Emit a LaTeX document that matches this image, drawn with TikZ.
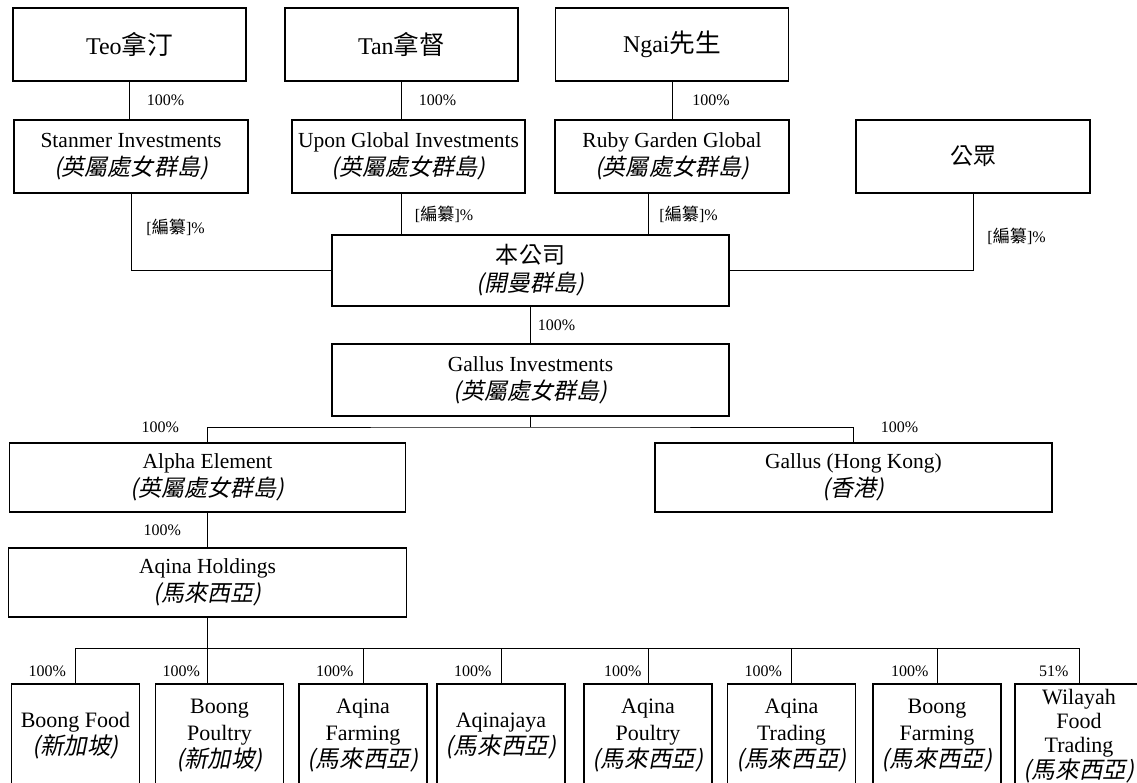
\documentclass[tikz,border=0pt]{standalone}
\usepackage{fontspec}
\setmainfont{Liberation Serif}
\newfontfamily\cjk[Scale=1.07]{Noto Sans CJK TC}
\newfontfamily\cjkit[Scale=1.07, FakeSlant=0.2]{Noto Sans CJK TC}
\usetikzlibrary{positioning}

\begin{document}
\begin{tikzpicture}[x=1pt, y=-1pt, line width=0.9pt,
    entity/.style={draw, rectangle, line width=1.1pt, align=center, inner sep=0pt,
        font=\fontsize{21.5}{28}\selectfont},
    owner/.style={entity, minimum width=233, minimum height=73,
        font=\fontsize{24}{28}\selectfont},
    subsidiary/.style={entity, minimum width=128, minimum height=104,
        font=\fontsize{22}{27}\selectfont},
    share/.style={inner sep=0pt, font=\fontsize{16}{18}\selectfont}]

% page size of the chart, the bottom row runs off the page
\useasboundingbox (0,0) rectangle (1137,782);
\clip (0,0) rectangle (1137,782);

% shareholders at the top:
\node[owner] (teo) at (129.5,44.5) {Teo{\cjk 拿汀}};
\node[owner] (tan) at (401.5,44.5) {Tan{\cjk 拿督}};
\node[owner] (ngai) at (672,44.5) {Ngai{\cjk 先生}};

% their holding companies and the public:
\node[entity, minimum width=234, minimum height=73] (stanmer) at (131,156.5)
    {Stanmer Investments\\{\cjkit (英屬處女群島)}};
\node[entity, minimum width=233, minimum height=73] (upon) at (408.5,156.5)
    {Upon Global Investments\\{\cjkit (英屬處女群島)}};
\node[entity, minimum width=234, minimum height=73] (ruby) at (672,156.5)
    {Ruby Garden Global\\{\cjkit (英屬處女群島)}};
\node[entity, minimum width=234, minimum height=73] (public) at (973,156.5)
    {{\cjk 公眾}};

% the company and the BVI holding company under it
\node[entity, minimum width=397, minimum height=71] (company) at (530.5,270.5)
    {{\cjk 本公司}\\{\cjkit (開曼群島)}};
\node[entity, minimum width=397, minimum height=72] (gallusinv) at (530.5,380)
    {Gallus Investments\\{\cjkit (英屬處女群島)}};

% second level:
\node[entity, minimum width=396, minimum height=69] (alpha) at (207.5,477.5)
    {Alpha Element\\{\cjkit (英屬處女群島)}};
\node[entity, minimum width=397, minimum height=69] (gallushk) at (853.5,477.5)
    {Gallus (Hong Kong)\\{\cjkit (香港)}};
\node[entity, minimum width=398, minimum height=69] (aqina) at (207.5,582.5)
    {Aqina Holdings\\{\cjkit (馬來西亞)}};

% bottom row of operating subsidiaries:
\node[subsidiary] (boongfood) at (75.5,736) {Boong Food\\{\cjkit (新加坡)}};
\node[subsidiary] (boongpoultry) at (219.5,736) {Boong\\Poultry\\{\cjkit (新加坡)}};
\node[subsidiary] (aqinafarming) at (363,736) {Aqina\\Farming\\{\cjkit (馬來西亞)}};
\node[subsidiary] (aqinajaya) at (501,736) {Aqinajaya\\{\cjkit (馬來西亞)}};
\node[subsidiary] (aqinapoultry) at (648,736) {Aqina\\Poultry\\{\cjkit (馬來西亞)}};
\node[subsidiary] (aqinatrading) at (791.5,736) {Aqina\\Trading\\{\cjkit (馬來西亞)}};
\node[subsidiary] (boongfarming) at (937,736) {Boong\\Farming\\{\cjkit (馬來西亞)}};
\node[subsidiary, font=\fontsize{22}{24}\selectfont] (wilayah) at (1079,736)
    {Wilayah\\Food\\Trading\\{\cjkit (馬來西亞)}};

% owners to holding companies, 100% each
\draw (teo.south) -- (teo.south |- stanmer.north) node[share, midway, right=17pt] (pteo) {100\%};
\draw (tan.south) -- (tan.south |- upon.north) node[share, midway, right=17pt] (ptan) {100\%};
\draw (ngai.south) -- (ngai.south |- ruby.north) node[share, midway, right=20pt] (pngai) {100\%};

% holding companies into the company
\draw (stanmer.south) |- (company.west) node[share, pos=0.22, right=15pt] (pstanmer) {[{\cjk 編纂}]\%};
\draw (tan.south |- upon.south) -- (tan.south |- company.north) node[share, midway, right=13pt] (pupon) {[{\cjk 編纂}]\%};
\draw ([xshift=-24pt]ruby.south) -- ([xshift=-24pt]ruby.south |- company.north) node[share, midway, right=11pt] (pruby) {[{\cjk 編纂}]\%};
\draw (public.south) |- (company.east) node[share, pos=0.28, right=14pt] (ppublic) {[{\cjk 編纂}]\%};

% company down the chain
\draw (company) -- (gallusinv) node[share, midway, right=7pt] (pgallusinv) {100\%};

\coordinate (gallusbus) at (530.5,427);
\draw (gallusinv) -- (gallusbus);
\draw (alpha.north) |- (gallusbus) -| (gallushk.north);
\node[share, left=28pt] (palpha) at (alpha.north |- gallusbus) {100\%};
\node[share, right=27pt] (pgallushk) at (gallushk.north |- gallusbus) {100\%};

\draw (alpha.south) -- (alpha.south |- aqina.north) node[share, midway, left=26pt] (paqina) {100\%};

% the bus over the bottom row
\coordinate (aqinabus) at (207.5,648);
\coordinate (poultrydrop) at (aqina.south |- boongpoultry.north);
\draw (aqina.south) -- (poultrydrop);
\draw (boongfood.north) |- (aqinabus) -| (wilayah.north);
\draw (aqinafarming.north) -- (aqinafarming.north |- aqinabus);
\draw (aqinajaya.north) -- (aqinajaya.north |- aqinabus);
\draw (aqinapoultry.north) -- (aqinapoultry.north |- aqinabus);
\draw (aqinatrading.north) -- (aqinatrading.north |- aqinabus);
\draw (boongfarming.north) -- (boongfarming.north |- aqinabus);

% share labels left of each drop line
\node[share, left=9pt] (pboongfood) at ([yshift=12pt]boongfood.north) {100\%};
\node[share, left=7pt] (pboongpoultry) at ([yshift=12pt]poultrydrop) {100\%};
\node[share, left=9pt] (paqinafarming) at ([yshift=12pt]aqinafarming.north) {100\%};
\node[share, left=9pt] (paqinajaya) at ([yshift=12pt]aqinajaya.north) {100\%};
\node[share, left=6pt] (paqinapoultry) at ([yshift=12pt]aqinapoultry.north) {100\%};
\node[share, left=9pt] (paqinatrading) at ([yshift=12pt]aqinatrading.north) {100\%};
\node[share, left=8pt] (pboongfarming) at ([yshift=12pt]boongfarming.north) {100\%};
\node[share, left=10pt] (pwilayah) at ([yshift=12pt]wilayah.north) {51\%};

\end{tikzpicture}
\end{document}
